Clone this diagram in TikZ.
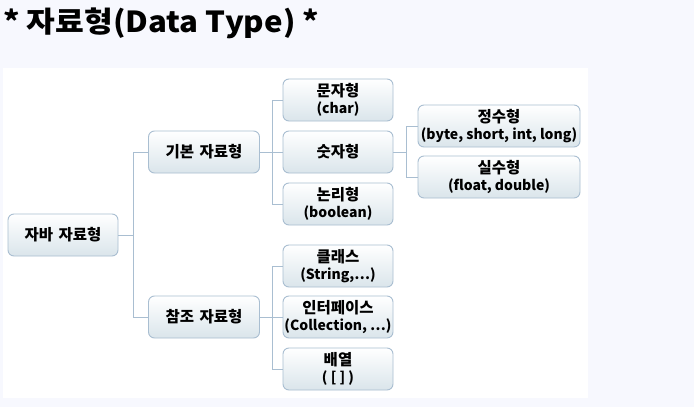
\documentclass[tikz,border=0pt]{standalone}
\usepackage{fontspec}
\setmainfont{Noto Sans CJK KR}
\definecolor{pagebg}{HTML}{F7F8FE}
\definecolor{boxline}{HTML}{A9BED1}
\definecolor{boxbot}{HTML}{DAE5EB}
\definecolor{conn}{HTML}{A9BED1}
\newcommand{\lat}[1]{{\fontsize{14}{17}\selectfont #1}}
\tikzset{
  tbox/.style={draw=boxline, line width=0.9pt, rounded corners=6pt, top color=white, bottom color=boxbot,
    minimum width=#1, minimum height=42pt, align=center, font=\fontsize{15.5}{17}\selectfont\bfseries, inner sep=1pt},
  tbox/.default=110pt,
  link/.style={draw=conn, line width=1pt}
}
\begin{document}
\begin{tikzpicture}[x=1pt,y=-1pt]
\useasboundingbox (0,0) rectangle (694,407);
\fill[pagebg] (0,0) rectangle (694,407);
\fill[white] (3,68) rectangle (588,398);
\node[anchor=west, font=\fontsize{32}{36}\selectfont\bfseries, inner sep=0pt] (title) at (3,23) {\resizebox*{316pt}{31pt}{* 자료형(Data Type) *}};
\node[tbox] (java) at (63,235) {자바\hspace{2pt} 자료형};
\node[tbox=111pt] (prim) at (204,152) {기본\hspace{2pt} 자료형};
\node[tbox=111pt] (ref) at (204,317) {참조\hspace{2pt} 자료형};
\node[tbox] (chr) at (338,100) {문자형\\\lat{(char)}};
\node[tbox] (num) at (338,152) {숫자형};
\node[tbox] (bool) at (338,204) {논리형\\\lat{(boolean)}};
\node[tbox=162pt] (int) at (499,126) {정수형\\\lat{(byte, short, int, long)}};
\node[tbox=162pt] (real) at (499,177) {실수형\\\lat{(float, double)}};
\node[tbox] (cls) at (338,266) {클래스\\\lat{(String,…)}};
\node[tbox] (ifc) at (338,317) {인터페이스\\\lat{(Collection, …)}};
\node[tbox] (arr) at (338,369) {배열\\\lat{( [ ] )}};
\coordinate (j1) at (133,235);
\coordinate (p1) at (272,152);
\coordinate (r1) at (272,317);
\coordinate (n1) at (406,152);
\draw[link] (java.east) -- (j1);
\draw[link] (j1) |- (prim.west);
\draw[link] (j1) |- (ref.west);
\draw[link] (prim.east) -- (p1);
\draw[link] (p1) |- (chr.west);
\draw[link] (p1) |- (num.west);
\draw[link] (p1) |- (bool.west);
\draw[link] (ref.east) -- (r1);
\draw[link] (r1) |- (cls.west);
\draw[link] (r1) |- (ifc.west);
\draw[link] (r1) |- (arr.west);
\draw[link] (num.east) -- (n1);
\draw[link] (n1) |- (int.west);
\draw[link] (n1) |- (real.west);
\end{tikzpicture}
\end{document}
